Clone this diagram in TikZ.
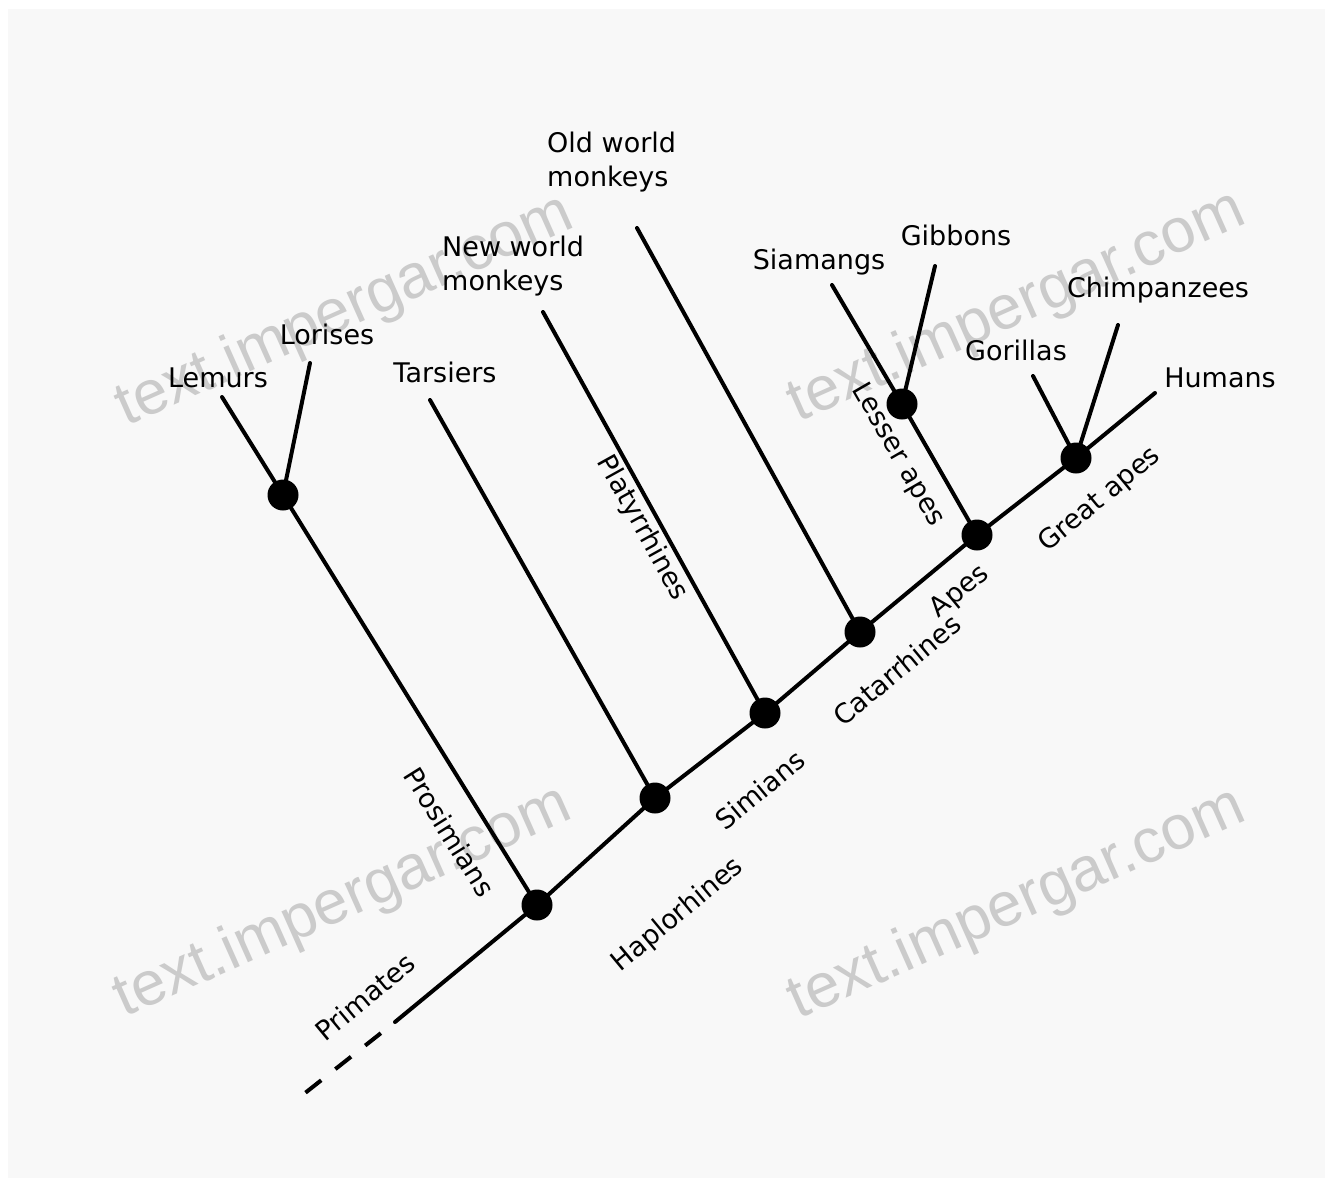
\documentclass[tikz,border=0pt]{standalone}
\usepackage{fontspec}
\setmainfont{DejaVu Sans}
\newfontfamily\wmfont{Liberation Sans}
\definecolor{bggray}{RGB}{248,248,248}
\definecolor{wmgray}{RGB}{203,203,203}
\tikzset{
  branch/.style={line width=4pt, black, line cap=round},
  dot/.style={circle, fill=black, inner sep=0pt, minimum size=31pt},
  taxon/.style={font=\fontsize{27}{34}\selectfont, inner sep=1pt},
  clade/.style={font=\fontsize{27}{34}\selectfont, inner sep=1pt},
  watermark/.style={font=\wmfont\fontsize{62}{62}\selectfont, text=wmgray, rotate=24, inner sep=0pt}
}
\begin{document}
\begin{tikzpicture}[x=1pt,y=-1pt]
\useasboundingbox (0,0) rectangle (1325,1178);
\fill[white] (0,0) rectangle (1325,1178);
\fill[bggray] (8,9) rectangle (1325,1178);

% watermarks
\node[watermark] (wm1) at (345,312) {text.impergar.com};
\node[watermark] (wm2) at (1017,308) {text.impergar.com};
\node[watermark] (wm3) at (343,903) {text.impergar.com};
\node[watermark] (wm4) at (1017,905) {text.impergar.com};

% internal nodes
\node[dot] (root) at (537,905) {};
\node[dot] (strep) at (283,495) {};
\node[dot] (hap) at (655,798) {};
\node[dot] (sim) at (765,713) {};
\node[dot] (cat) at (860,632) {};
\node[dot] (apes) at (977,535) {};
\node[dot] (lesser) at (902,404) {};
\node[dot] (great) at (1076,458) {};

% leaf ends
\coordinate (lemE) at (222,397);
\coordinate (lorE) at (310,363);
\coordinate (tarE) at (430,400);
\coordinate (nwmE) at (543,312);
\coordinate (owmE) at (637,228);
\coordinate (siaE) at (832,285);
\coordinate (gibE) at (935,266);
\coordinate (gorE) at (1033,376);
\coordinate (chiE) at (1118,325);
\coordinate (humE) at (1155,393);
\coordinate (stemE) at (395,1022);
\coordinate (stemF) at (300,1097);

% branches
\draw[branch] (stemE) -- (root.center) -- (hap.center) -- (sim.center) -- (cat.center) -- (apes.center) -- (great.center) -- (humE);
\draw[branch, line cap=butt, dash pattern=on 20pt off 18pt, dash phase=20pt] (stemE) -- (stemF);
\draw[branch] (root.center) -- (strep.center);
\draw[branch] (strep.center) -- (lemE);
\draw[branch] (strep.center) -- (lorE);
\draw[branch] (hap.center) -- (tarE);
\draw[branch] (sim.center) -- (nwmE);
\draw[branch] (cat.center) -- (owmE);
\draw[branch] (apes.center) -- (lesser.center);
\draw[branch] (lesser.center) -- (siaE);
\draw[branch] (lesser.center) -- (gibE);
\draw[branch] (great.center) -- (gorE);
\draw[branch] (great.center) -- (chiE);

% taxon labels
\node[taxon] (lem) at (218,378) {Lemurs};
\node[taxon] (lor) at (327,334) {Lorises};
\node[taxon] (tar) at (445,372) {Tarsiers};
\node[taxon, anchor=west, align=left] (nwm) at (441,266) {New world\\monkeys};
\node[taxon, anchor=west, align=left] (owm) at (546,162) {Old world\\monkeys};
\node[taxon] (sia) at (819,262) {Siamangs};
\node[taxon] (gib) at (956,235) {Gibbons};
\node[taxon] (gor) at (1016,350) {Gorillas};
\node[taxon] (chi) at (1158,290) {Chimpanzees};
\node[taxon] (hum) at (1220,378) {Humans};

% clade labels
\node[clade, rotate=-58] (pros) at (450,832) {Prosimians};
\node[clade, rotate=-61] (plat) at (642,528) {Platyrrhines};
\node[clade, rotate=-60] (less) at (898,455) {Lesser apes};
\node[clade, rotate=39.6] (prim) at (365,997) {Primates};
\node[clade, rotate=39.6] (hapl) at (678,915) {Haplorhines};
\node[clade, rotate=39.6] (simi) at (760,790) {Simians};
\node[clade, rotate=39.6] (cata) at (897,670) {Catarrhines};
\node[clade, rotate=39.6] (apel) at (960,592) {Apes};
\node[clade, rotate=39.6] (grea) at (1100,500) {Great apes};
\end{tikzpicture}
\end{document}
